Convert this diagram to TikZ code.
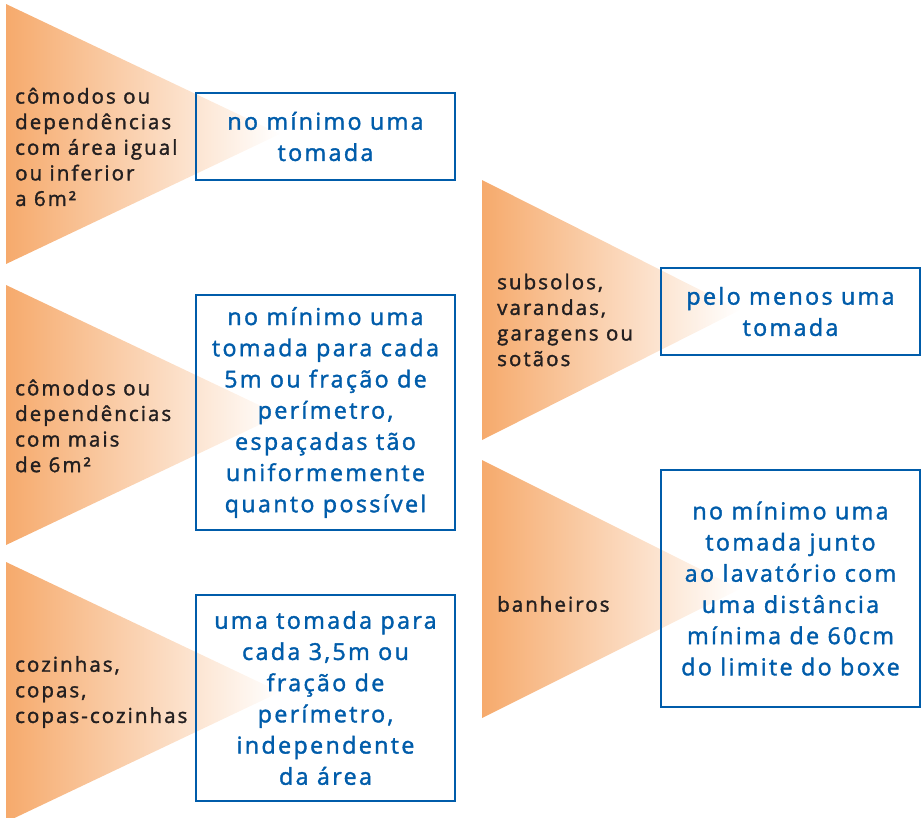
\documentclass[tikz,border=0pt]{standalone}
\usepackage{fontspec}
\setmainfont{Open Sans}[LetterSpace=10, FakeBold=1.6]
\usetikzlibrary{positioning}
\definecolor{fanorange}{RGB}{246,170,108}
\definecolor{ruleblue}{RGB}{0,92,170}
\definecolor{placegray}{RGB}{35,31,32}

\begin{document}
\begin{tikzpicture}[
            x = 1pt, y = -1pt,
            fan/.style = {left color=fanorange, right color=white},
            rule/.style = {draw=ruleblue, line width=2.6pt, text=ruleblue, align=center,
                           minimum width=259pt, inner sep=0pt, font=\fontsize{23.3}{31.2}\selectfont},
            place/.style = {text=placegray, align=left, anchor=west, inner sep=0pt,
                            font=\fontsize{20.5}{25.6}\selectfont}
        ]

            \clip (0,0) rectangle (923,817);

            % Fans
            \shade[fan] (6,4) -- (280,134) -- (6,264) -- cycle;
            \shade[fan] (6,285) -- (280,415) -- (6,545) -- cycle;
            \shade[fan] (6,562) -- (280,692) -- (6,822) -- cycle;
            \shade[fan] (482,180) -- (740,310) -- (482,440) -- cycle;
            \shade[fan] (482,460) -- (740,589) -- (482,718) -- cycle;

            % Rooms
            \node[place] (small) at (15,147) {cômodos ou\\dependências\\com área igual\\ou inferior\\a 6m²};
            \node[place] (large) at (15,426) {cômodos ou\\dependências\\com mais\\de 6m²};
            \node[place] (kitchen) at (15,692) {cozinhas,\\copas,\\copas-cozinhas};
            \node[place] (service) at (497,320) {subsolos,\\varandas,\\garagens ou\\sotãos};
            \node[place] (bath) at (497,604) {banheiros};

            % Rules
            \node[rule, minimum height=87pt] (smallRule) at (325.5,136.5) {no mínimo uma\\tomada};
            \node[rule, minimum height=235pt] (largeRule) at (325.5,412.5)
                {no mínimo uma\\tomada para cada\\5m ou fração de\\perímetro,\\espaçadas tão\\uniformemente\\quanto possível};
            \node[rule, minimum height=206pt] (kitchenRule) at (325.5,698)
                {uma tomada para\\cada 3,5m ou\\fração de\\perímetro,\\independente\\da área};
            \node[rule, minimum height=87pt] (serviceRule) at (790.5,311.5) {pelo menos uma\\tomada};
            \node[rule, minimum height=237pt] (bathRule) at (790.5,588.5)
                {no mínimo uma\\tomada junto\\ao lavatório com\\uma distância\\mínima de 60cm\\do limite do boxe};

        \end{tikzpicture}
\end{document}
